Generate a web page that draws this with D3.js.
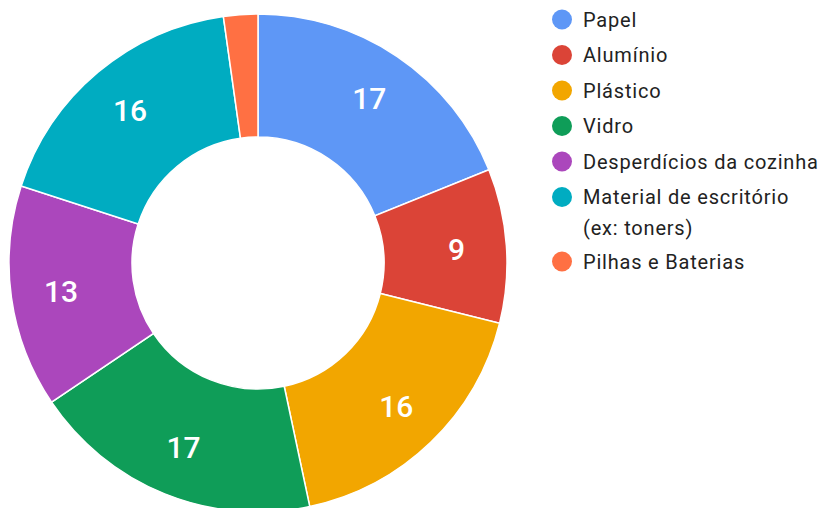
<!DOCTYPE html>
<html><head><meta charset="utf-8">
<script src="https://cdn.jsdelivr.net/npm/d3@7"></script>
<style>body{margin:0;background:#fff;} svg{display:block;}</style>
</head><body>
<svg id="chart" width="822" height="508"></svg>
<script>
const categories = ["Papel","Alumínio","Plástico","Vidro","Desperdícios da cozinha","Material de escritório (ex: toners)","Pilhas e Baterias"];
const legendLines = [["Papel"],["Alumínio"],["Plástico"],["Vidro"],["Desperdícios da cozinha"],["Material de escritório","(ex: toners)"],["Pilhas e Baterias"]];
const values = [17, 9, 16, 17, 13, 16, 2];
const colors = ["#5e97f6","#db4437","#f2a600","#0f9d58","#ab47bc","#00acc1","#ff7043"];

const svg = d3.select("#chart");
const cx = 258, cy = 263, R = 249, r0 = 126, labelR = 199;
const g = svg.append("g").attr("transform", `translate(${cx},${cy})`);
const pie = d3.pie().sort(null).value(d => d);
const arcs = pie(values);
const arc = d3.arc().innerRadius(r0).outerRadius(R);
g.selectAll("path").data(arcs).join("path")
  .attr("d", arc).attr("fill", (d,i) => colors[i])
  .attr("stroke", "#fff").attr("stroke-width", 1.5);
const lab = d3.arc().innerRadius(labelR).outerRadius(labelR);
g.selectAll("text").data(arcs.filter(d => d.data >= 5)).join("text")
  .attr("transform", d => `translate(${lab.centroid(d)})`)
  .attr("text-anchor", "middle").attr("dy", "0.36em")
  .attr("fill", "#fff").attr("font-family", "Roboto").attr("font-weight", 500)
  .attr("font-size", 30).text(d => d.data);

const lg = svg.append("g");
let y = 19.5;
legendLines.forEach((lines, i) => {
  lg.append("circle").attr("cx", 562).attr("cy", y).attr("r", 10).attr("fill", colors[i]);
  const t = lg.append("text").attr("x", 583).attr("y", y + 7)
    .attr("font-family", "Roboto").attr("font-size", 20).attr("letter-spacing", 0.8).attr("fill", "#222");
  lines.forEach((l, j) => t.append("tspan").attr("x", 583).attr("dy", j ? 31 : 0).text(l));
  y += 35.5 + (lines.length - 1) * 29;
});
</script>
</body></html>
